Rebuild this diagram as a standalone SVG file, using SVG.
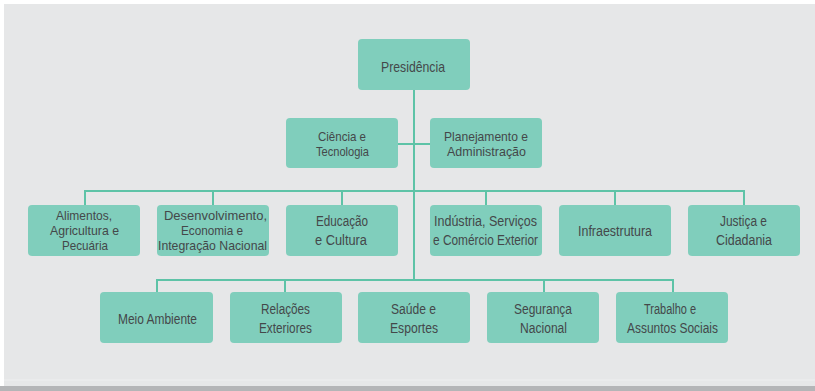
<svg xmlns="http://www.w3.org/2000/svg" width="815" height="391" viewBox="0 0 815 391">
<style>
.bg{fill:#e6e7e8}
.box{fill:#80cebc}
.ln{stroke:#5ec3a7;stroke-width:2;fill:none}
text{font-family:"Liberation Sans",Arial,sans-serif;font-size:14px;fill:#44484a;text-anchor:middle;dominant-baseline:central}
.t{font-size:13px}
</style>
<rect x="0" y="0" width="815" height="391" fill="#ffffff"/>
<rect class="bg" x="4" y="4" width="811" height="382"/>
<rect x="4" y="379.5" width="811" height="1" fill="#eeeff0"/>
<rect x="0" y="386" width="815" height="5" fill="#b4b5b7"/>
<g id="connectors">
<path class="ln" d="M414 90V280"/>
<path class="ln" d="M398 144H430"/>
<path class="ln" d="M84 191H745M85 190V205M213 190V205M342 190V205M486 190V205M615 190V205M744 190V205"/>
<path class="ln" d="M156 280H674M157 279V292M285 279V292M544 279V292M673 279V292"/>
</g>
<g id="presidencia"><rect class="box" x="358" y="39" width="112" height="51" rx="4"/><text x="413" y="66" textLength="64" lengthAdjust="spacingAndGlyphs" style="font-size:15px">Presidência</text></g>
<g id="ciencia"><rect class="box" x="286" y="118" width="112" height="50" rx="4"/><text class="t" x="342" y="136" textLength="48" lengthAdjust="spacingAndGlyphs">Ciência e</text><text class="t" x="342.5" y="151" textLength="53" lengthAdjust="spacingAndGlyphs">Tecnologia</text></g>
<g id="planejamento"><rect class="box" x="430" y="118" width="112" height="50" rx="4"/><text class="t" x="486" y="136" textLength="84" lengthAdjust="spacingAndGlyphs">Planejamento e</text><text class="t" x="486.5" y="151" textLength="79" lengthAdjust="spacingAndGlyphs">Administração</text></g>
<g id="alimentos"><rect class="box" x="28" y="205" width="112" height="51" rx="4"/><text class="t" x="84" y="215" textLength="56" lengthAdjust="spacingAndGlyphs">Alimentos,</text><text class="t" x="84.5" y="230" textLength="69" lengthAdjust="spacingAndGlyphs">Agricultura e</text><text class="t" x="85" y="245" textLength="46" lengthAdjust="spacingAndGlyphs">Pecuária</text></g>
<g id="desenvolvimento"><rect class="box" x="157" y="205" width="112" height="51" rx="4"/><text class="t" x="215.5" y="215" textLength="103" lengthAdjust="spacingAndGlyphs">Desenvolvimento,</text><text class="t" x="212" y="230" textLength="62" lengthAdjust="spacingAndGlyphs">Economia e</text><text class="t" x="212.5" y="245" textLength="109" lengthAdjust="spacingAndGlyphs">Integração Nacional</text></g>
<g id="educacao"><rect class="box" x="286" y="205" width="112" height="51" rx="4"/><text x="342" y="221" textLength="52" lengthAdjust="spacingAndGlyphs">Educação</text><text x="341" y="240" textLength="52" lengthAdjust="spacingAndGlyphs">e Cultura</text></g>
<g id="industria"><rect class="box" x="430" y="205" width="112" height="51" rx="4"/><text x="485.5" y="221" textLength="103" lengthAdjust="spacingAndGlyphs">Indústria, Serviços</text><text x="485.5" y="240" textLength="105" lengthAdjust="spacingAndGlyphs">e Comércio Exterior</text></g>
<g id="infraestrutura"><rect class="box" x="559" y="205" width="112" height="51" rx="4"/><text x="615" y="231" textLength="74" lengthAdjust="spacingAndGlyphs">Infraestrutura</text></g>
<g id="justica"><rect class="box" x="688" y="205" width="112" height="51" rx="4"/><text x="743.5" y="221" textLength="47" lengthAdjust="spacingAndGlyphs">Justiça e</text><text x="744" y="240" textLength="56" lengthAdjust="spacingAndGlyphs">Cidadania</text></g>
<g id="meio"><rect class="box" x="100" y="292" width="113" height="51" rx="4"/><text x="157.5" y="319" textLength="79" lengthAdjust="spacingAndGlyphs">Meio Ambiente</text></g>
<g id="relacoes"><rect class="box" x="230" y="292" width="112" height="51" rx="4"/><text x="285.5" y="309" textLength="49" lengthAdjust="spacingAndGlyphs">Relações</text><text x="285.5" y="328" textLength="53" lengthAdjust="spacingAndGlyphs">Exteriores</text></g>
<g id="saude"><rect class="box" x="358" y="292" width="112" height="51" rx="4"/><text x="413.5" y="309" textLength="45" lengthAdjust="spacingAndGlyphs">Saúde e</text><text x="414" y="328" textLength="48" lengthAdjust="spacingAndGlyphs">Esportes</text></g>
<g id="seguranca"><rect class="box" x="487" y="292" width="112" height="51" rx="4"/><text x="543" y="309" textLength="58" lengthAdjust="spacingAndGlyphs">Segurança</text><text x="543.5" y="328" textLength="47" lengthAdjust="spacingAndGlyphs">Nacional</text></g>
<g id="trabalho"><rect class="box" x="616" y="292" width="112" height="51" rx="4"/><text x="670" y="309" textLength="52" lengthAdjust="spacingAndGlyphs">Trabalho e</text><text x="672.5" y="328" textLength="91" lengthAdjust="spacingAndGlyphs">Assuntos Sociais</text></g>
</svg>
